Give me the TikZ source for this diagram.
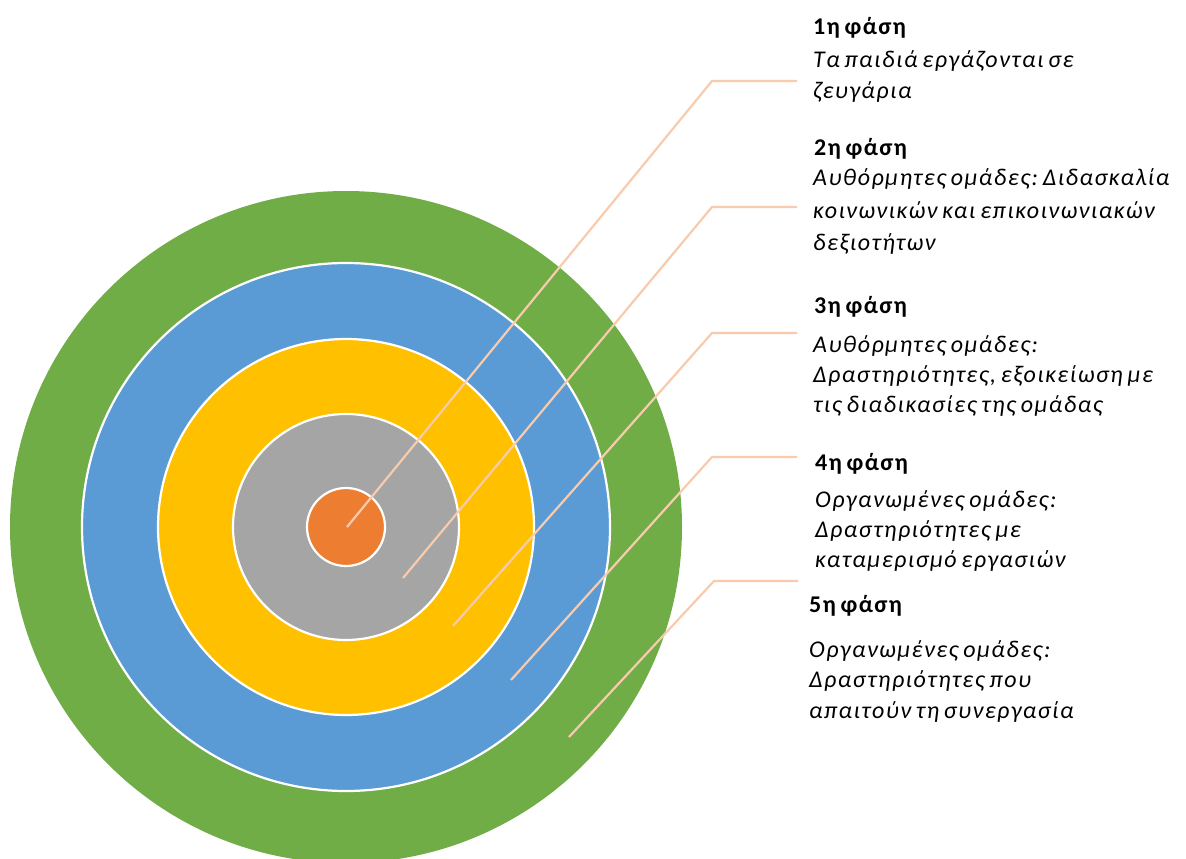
\documentclass[tikz,border=0pt]{standalone}
\usepackage{fontspec}
\setmainfont{Carlito}[LetterSpace=6, WordSpace=0.7]
\frenchspacing
\definecolor{cgreen}{HTML}{70AD47}
\definecolor{cblue}{HTML}{5B9BD5}
\definecolor{cyellow}{HTML}{FFC000}
\definecolor{cgray}{HTML}{A5A5A5}
\definecolor{corange}{HTML}{ED7D31}
\definecolor{cline}{HTML}{F8CBAD}
\tikzset{
  ring/.style={draw=white, line width=2.2pt},
  leader/.style={draw=cline, line width=2.2pt},
  phasetitle/.style={anchor=base west, inner sep=0pt, font=\fontsize{24}{31}\selectfont\bfseries},
  phasetext/.style={anchor=base west, inner sep=0pt, font=\fontsize{24}{31}\selectfont\itshape},
}
\begin{document}
\begin{tikzpicture}[x=1pt,y=-1pt]
\useasboundingbox (0,0) rectangle (1186,859);
\fill[cgreen] (346,527) circle (336);
\filldraw[ring, fill=cblue] (346,527) circle (264);
\filldraw[ring, fill=cyellow] (346,527) circle (188);
\filldraw[ring, fill=cgray] (346,527) circle (113);
\filldraw[ring, fill=corange] (346,527) circle (39);
% leader coordinates
\coordinate (s1) at (347,527); \coordinate (e1) at (712,81);  \coordinate (t1) at (797,81);
\coordinate (s2) at (403,578); \coordinate (e2) at (712,207); \coordinate (t2) at (797,207);
\coordinate (s3) at (453,626); \coordinate (e3) at (712,333); \coordinate (t3) at (797,333);
\coordinate (s4) at (511,680); \coordinate (e4) at (712,457); \coordinate (t4) at (797,457);
\coordinate (s5) at (569,737); \coordinate (e5) at (714,581); \coordinate (t5) at (798,581);
\foreach \i in {1,...,5} {\draw[leader] (s\i) -- (e\i) -- (t\i);}
% texts
\node[phasetitle] (h1) at (813,35) {1η φάση};
\node[phasetext] (d1a) at (813,67) {Τα παιδιά εργάζονται σε};
\node[phasetext] (d1b) at (813,98) {ζευγάρια};
\node[phasetitle] (h2) at (814,155) {2η φάση};
\node[phasetext] (d2a) at (813,185) {Αυθόρμητες ομάδες: Διδασκαλία};
\node[phasetext] (d2b) at (813,218) {κοινωνικών και επικοινωνιακών};
\node[phasetext] (d2c) at (813,250) {δεξιοτήτων};
\node[phasetitle] (h3) at (814,313) {3η φάση};
\node[phasetext] (d3a) at (813,352) {Αυθόρμητες ομάδες:};
\node[phasetext] (d3b) at (813,382) {Δραστηριότητες, εξοικείωση με};
\node[phasetext] (d3c) at (813,412) {τις διαδικασίες της ομάδας};
\node[phasetitle] (h4) at (815,470) {4η φάση};
\node[phasetext] (d4a) at (815,507) {Οργανωμένες ομάδες:};
\node[phasetext] (d4b) at (815,537) {Δραστηριότητες με};
\node[phasetext] (d4c) at (815,567) {καταμερισμό εργασιών};
\node[phasetitle] (h5) at (809,612) {5η φάση};
\node[phasetext] (d5a) at (809,657) {Οργανωμένες ομάδες:};
\node[phasetext] (d5b) at (809,687) {Δραστηριότητες που};
\node[phasetext] (d5c) at (809,718) {απαιτούν τη συνεργασία};
\end{tikzpicture}
\end{document}
